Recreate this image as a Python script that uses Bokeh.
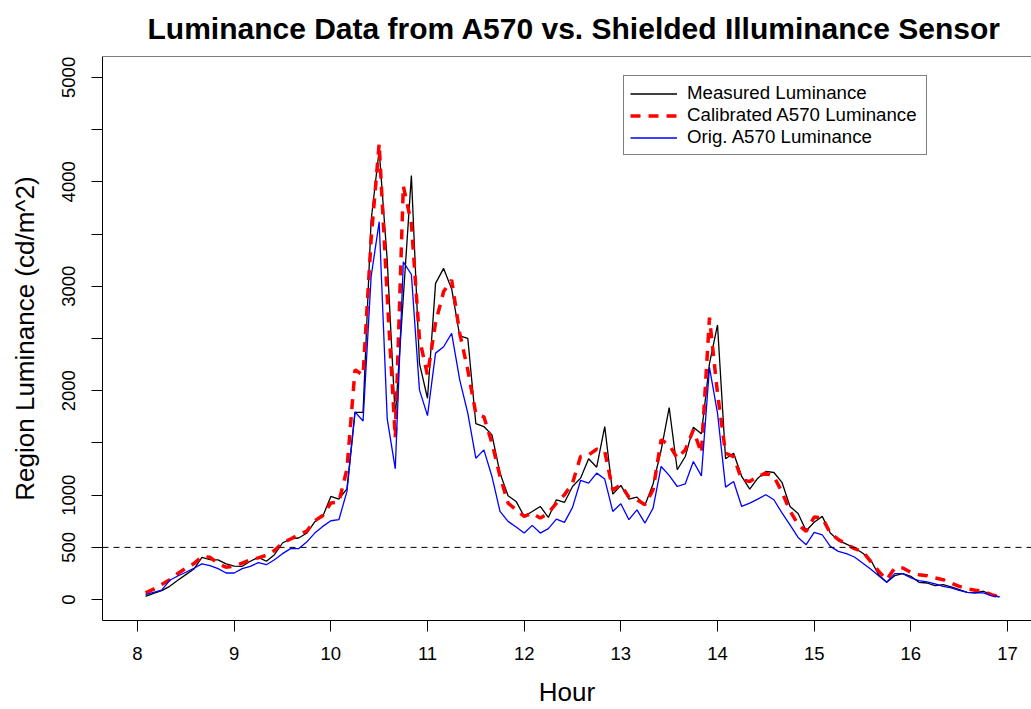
from bokeh.plotting import figure
from bokeh.models import Range1d, FixedTicker, Span, Legend, LegendItem
from bokeh.embed import file_html
from bokeh.resources import INLINE

# time of day (5-minute samples, 8:05 .. 16:55), as hours
minutes = list(range(485, 1016, 5))
hours = [m / 60 for m in minutes]

measured = [32, 60, 86, 127, 185, 239, 293, 405, 383, 380,
            342, 321, 319, 367, 405, 367, 430, 542, 582, 590,
            635, 745, 797, 988, 962, 1060, 1792, 1792, 3630, 4305,
            3250, 1740, 2900, 4060, 2262, 1928, 3028, 3171, 2975, 2524,
            2502, 1686, 1657, 1577, 1211, 994, 940, 797, 844, 892,
            787, 956, 930, 1083, 1163, 1348, 1268, 1657, 1010, 1093,
            962, 981, 905, 1107, 1430, 1839, 1243, 1370, 1651, 1587,
            2260, 2630, 1348, 1402, 1179, 1058, 1163, 1227, 1217, 1123,
            892, 825, 660, 741, 797, 637, 567, 532, 494, 446,
            382, 239, 166, 229, 249, 223, 166, 159, 134, 143,
            121, 96, 70, 64, 80, 48, 26]

calibrated = [64, 100, 145, 190, 250, 300, 345, 414, 405, 345,
              310, 319, 350, 382, 400, 425, 470, 542, 580, 620,
              655, 755, 805, 925, 935, 1250, 2200, 2150, 3450, 4366,
              2900, 1550, 3960, 3600, 2500, 2150, 2650, 2950, 3060, 2550,
              2200, 1780, 1750, 1500, 1180, 924, 860, 797, 829, 780,
              829, 924, 1004, 1115, 1370, 1386, 1440, 1420, 1050, 1099,
              981, 956, 908, 1052, 1530, 1482, 1354, 1434, 1625, 1402,
              2700, 1976, 1402, 1370, 1147, 1131, 1179, 1211, 1179, 1030,
              850, 720, 653, 790, 785, 637, 574, 532, 488, 462,
              366, 271, 191, 303, 303, 261, 239, 229, 207, 191,
              159, 127, 102, 89, 80, 48, 26]

original = [48, 70, 90, 185, 226, 262, 300, 342, 325, 296,
            255, 255, 296, 319, 354, 334, 382, 440, 488, 488,
            551, 637, 701, 755, 765, 1036, 1797, 1710, 3091, 3617,
            1730, 1252, 3234, 3113, 2008, 1762, 2360, 2421, 2549, 2103,
            1785, 1354, 1434, 1179, 844, 749, 695, 637, 711, 637,
            679, 771, 739, 883, 1141, 1115, 1211, 1154, 844, 918,
            765, 860, 733, 876, 1275, 1189, 1083, 1109, 1322, 1185,
            2224, 1785, 1077, 1131, 892, 924, 962, 1004, 956, 830,
            715, 595, 526, 643, 621, 510, 462, 440, 408, 350,
            293, 229, 166, 249, 249, 207, 182, 169, 150, 127,
            112, 89, 70, 64, 64, 38, 26]

x_ticks = [8, 9, 10, 11, 12, 13, 14, 15, 16, 17]
y_ticks = [0, 500, 1000, 1500, 2000, 2500, 3000, 3500, 4000, 4500, 5000]
y_tick_labels = {1500: "", 2500: "", 3500: "", 4500: ""}
threshold = 500
title_text = "Luminance Data from A570 vs. Shielded Illuminance Sensor"

FONT = "Liberation Sans"

p = figure(width=1031, height=709, output_backend="svg", toolbar_location=None,
           x_range=Range1d(7.638, 17.248), y_range=Range1d(-200, 5200),
           min_border_left=102, min_border_right=0, min_border_top=56,
           min_border_bottom=88, background_fill_color="white",
           border_fill_color="white", outline_line_color=None)

p.title.text = title_text
p.title.text_font = FONT
p.title.text_font_size = "30px"
p.title.text_font_style = "bold"
p.title.align = "left"
p.title.offset = 45
p.title.vertical_align = "top"
p.title.text_color = "black"
p.title.standoff = 19

p.grid.visible = False

p.xaxis.ticker = FixedTicker(ticks=x_ticks)
p.yaxis.ticker = FixedTicker(ticks=y_ticks)
p.yaxis.major_label_overrides = y_tick_labels
p.yaxis.major_label_orientation = "vertical"
p.xaxis.axis_label = "Hour"
p.yaxis.axis_label = "Region Luminance (cd/m^2)"

for ax in (p.xaxis, p.yaxis):
    ax.axis_line_color = "black"
    ax.axis_line_width = 1
    ax.major_tick_line_color = "black"
    ax.major_tick_out = 11
    ax.major_tick_in = 0
    ax.minor_tick_line_color = None
    ax.major_label_text_font = FONT
    ax.major_label_text_font_size = "18.5px"
    ax.major_label_text_color = "black"
    ax.axis_label_text_font = FONT
    ax.axis_label_text_font_size = "26px"
    ax.axis_label_text_font_style = "normal"
    ax.axis_label_text_color = "black"

p.xaxis.major_label_standoff = 15
p.xaxis.axis_label_standoff = 14
p.yaxis.major_label_standoff = 16
p.yaxis.axis_label_standoff = 20

# top edge of the box
p.add_layout(Span(location=5200, dimension="width", line_color="black", line_width=1))
# 500 cd/m^2 reference line
p.add_layout(Span(location=threshold, dimension="width", line_color="black",
                  line_width=1, line_dash="6 5"))

r1 = p.line(hours, measured, line_color="black", line_width=1.3)
r2 = p.line(hours, calibrated, line_color="#FF0000", line_width=3.5, line_dash="10 8")
r3 = p.line(hours, original, line_color="#0000FF", line_width=1.3)

legend = Legend(items=[LegendItem(label="Measured Luminance", renderers=[r1]),
                       LegendItem(label="Calibrated A570 Luminance", renderers=[r2]),
                       LegendItem(label="Orig. A570 Luminance", renderers=[r3])],
                location=(521, 465))
legend.border_line_color = "black"
legend.border_line_width = 1
legend.background_fill_color = "white"
legend.background_fill_alpha = 1
legend.label_text_font = FONT
legend.label_text_font_size = "18.7px"
legend.label_text_color = "black"
legend.glyph_width = 47
legend.glyph_height = 21
legend.label_height = 21
legend.label_width = 233
legend.spacing = 0
legend.padding = 6
legend.label_standoff = 10
legend.margin = 0
p.add_layout(legend)

open("out.html", "w").write(file_html(p, INLINE))
